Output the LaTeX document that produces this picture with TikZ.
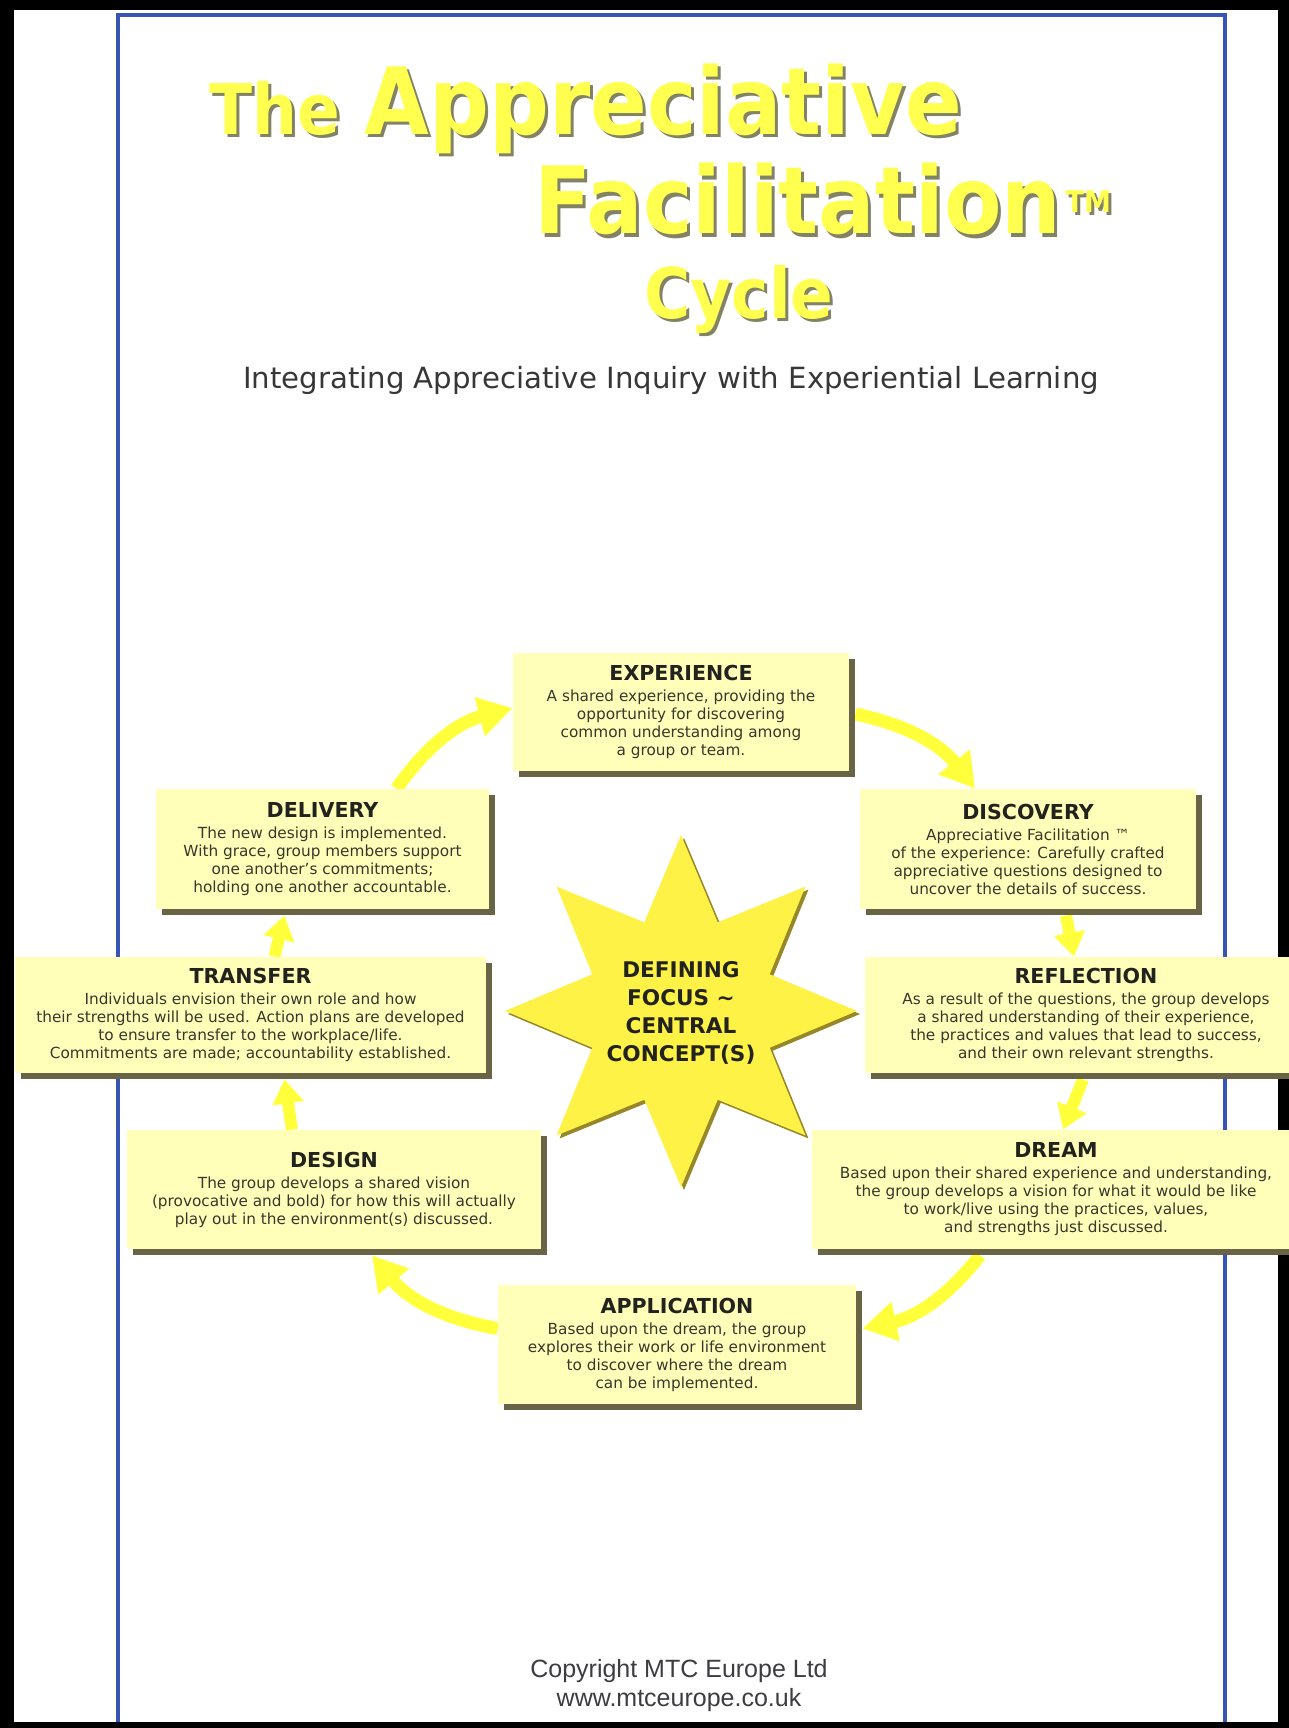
\documentclass[tikz,border=0pt]{standalone}
\usepackage{fontspec}
\usepackage{graphicx}
\setmainfont{DejaVu Sans}
\newfontfamily\footfont{Liberation Sans}
\usetikzlibrary{arrows.meta,shadows}

\definecolor{titleyellow}{RGB}{255,255,80}
\definecolor{titleshade}{RGB}{130,130,100}
\definecolor{subtitlegray}{RGB}{55,55,55}
\definecolor{boxfill}{RGB}{255,255,185}
\definecolor{boxshade}{RGB}{105,100,70}
\definecolor{boxtext}{RGB}{55,55,45}
\definecolor{boxhead}{RGB}{35,35,30}
\definecolor{starfill}{RGB}{255,242,70}
\definecolor{starshade}{RGB}{150,135,40}
\definecolor{flowyellow}{RGB}{255,255,60}
\definecolor{frameblue}{RGB}{55,85,180}
\definecolor{footgray}{RGB}{60,60,65}

\pgfdeclarelayer{paper}
\pgfdeclarelayer{links}
\pgfsetlayers{paper,links,main}

% heading line + body lines of a stage box
\newcommand\stagetext[2]{{\fontsize{10.3pt}{10.5pt}\selectfont\bfseries\color{boxhead}#1}\\[1.5pt]#2}
% yellow headline word with its cast shadow: name, x, y, content
\newcommand\glowtitle[4]{%
  \node[headline, text=titleshade] (#1-shade) at (#2+3,#3-3) {#4};
  \node[headline, text=titleyellow] (#1) at (#2,#3) {#4};}

\begin{document}
\begin{tikzpicture}[x=0.5pt,y=0.5pt,
  stage/.style={rectangle, fill=boxfill, text=boxtext, align=center, inner sep=0pt,
    font=\fontsize{7.65pt}{9pt}\selectfont,
    general shadow={fill=boxshade, shadow xshift=3pt, shadow yshift=-3pt}},
  headline/.style={anchor=base west, inner sep=0pt, font=\bfseries},
  flow/.style={draw=flowyellow, line width=6.5pt, -{Triangle[length=17pt,width=19pt]}},
  hop/.style={draw=flowyellow, line width=6pt, -{Triangle[length=12pt,width=15pt]}},
]
\useasboundingbox (0,0) rectangle (1289,-1728);

% page and frame
\begin{pgfonlayer}{paper}
  \fill[black] (0,0) rectangle (1289,-1728);
  \fill[white] (14,-10) rectangle (1278,-1722);
  \draw[frameblue, line width=1.8pt] (118,-1722) -- (118,-15) -- (1225,-15) -- (1225,-1722);
\end{pgfonlayer}

% title
\glowtitle{the}{209}{-135}{\fontsize{35pt}{38pt}\selectfont\scalebox{0.9}[1]{The}}
\glowtitle{appreciative}{364}{-135}{\fontsize{46.5pt}{50pt}\selectfont\scalebox{0.9}[1]{Appreciative}}
\glowtitle{facilitation}{534}{-234}{\fontsize{46.5pt}{50pt}\selectfont\scalebox{0.9}[1]{Facilitation\hspace{2.5pt}\raisebox{10.5pt}{\fontsize{15pt}{15pt}\selectfont TM}}}
\glowtitle{cycle}{644}{-318}{\fontsize{35pt}{38pt}\selectfont\scalebox{0.9}[1]{Cycle}}
\node[font=\fontsize{14.6pt}{16pt}\selectfont, text=subtitlegray, anchor=base, inner sep=0pt]
  (subtitle) at (671,-388) {Integrating Appreciative Inquiry with Experiential Learning};

% central star
\foreach \cx/\cy/\col in {684/-1014/starshade, 681/-1011/starfill}
  \fill[\col, shift={(\cx,\cy)}] (90:176)
    \foreach \a/\r in {112.5/96,135/176,157.5/96,180/176,202.5/96,225/176,247.5/96,270/176,
                       292.5/96,315/176,337.5/96,360/176,382.5/96,405/176,427.5/96} { -- (\a:\r) } -- cycle;
\node[font=\fontsize{10.8pt}{14pt}\selectfont\bfseries, text=boxhead, align=center, inner sep=0pt]
  (focus) at (681,-1013) {DEFINING\\FOCUS \textasciitilde\\CENTRAL\\CONCEPT(S)};

% stage boxes
\node[stage, minimum width=168pt, minimum height=59pt] (experience) at (681,-712)
  {\stagetext{EXPERIENCE}{A shared experience, providing the\\opportunity for discovering\\common understanding among\\a group or team.}};
\node[stage, minimum width=166.5pt, minimum height=60pt] (delivery) at (322.5,-849)
  {\stagetext{DELIVERY}{The new design is implemented.\\With grace, group members support\\one another's commitments;\\holding one another accountable.}};
\node[stage, minimum width=168pt, minimum height=60pt] (discovery) at (1028,-849)
  {\stagetext{DISCOVERY}{Appreciative Facilitation ™\\of the experience: Carefully crafted\\appreciative questions designed to\\uncover the details of success.}};
\node[stage, minimum width=235.5pt, minimum height=58pt] (transfer) at (250.5,-1015)
  {\stagetext{TRANSFER}{Individuals envision their own role and how\\their strengths will be used. Action plans are developed\\to ensure transfer to the workplace/life.\\Commitments are made; accountability established.}};
\node[stage, minimum width=221pt, minimum height=58pt] (reflection) at (1086,-1015)
  {\stagetext{REFLECTION}{As a result of the questions, the group develops\\a shared understanding of their experience,\\the practices and values that lead to success,\\and their own relevant strengths.}};
\node[stage, minimum width=207pt, minimum height=59.5pt] (design) at (334,-1189.5)
  {\stagetext{DESIGN}{The group develops a shared vision\\(provocative and bold) for how this will actually\\play out in the environment(s) discussed.}};
\node[stage, minimum width=244pt, minimum height=59.5pt] (dream) at (1056,-1189.5)
  {\stagetext{DREAM}{Based upon their shared experience and understanding,\\the group develops a vision for what it would be like\\to work/live using the practices, values,\\and strengths just discussed.}};
\node[stage, minimum width=179pt, minimum height=59.5pt] (application) at (677,-1344.5)
  {\stagetext{APPLICATION}{Based upon the dream, the group\\explores their work or life environment\\to discover where the dream\\can be implemented.}};

% cycle arrows
\begin{pgfonlayer}{links}
  \draw[flow] ([xshift=37pt]delivery.north) to[bend left=20] ([yshift=2pt]experience.west);
  \draw[flow] ([xshift=3pt,yshift=-1pt]experience.east) to[bend left=20] ([xshift=-26.5pt]discovery.north);
  \draw[hop] ([xshift=19pt,yshift=-3pt]discovery.south) -- ([xshift=-6pt]reflection.north);
  \draw[hop] ([xshift=-1.5pt,yshift=-3pt]reflection.south) -- ([xshift=3.5pt]dream.north);
  \draw[flow] ([xshift=-38pt,yshift=-3pt]dream.south) to[bend left=20] ([xshift=3pt,yshift=8pt]application.east);
  \draw[flow] ([yshift=8pt]application.west) to[bend left=20] ([xshift=19pt,yshift=-3pt]design.south);
  \draw[hop] ([xshift=-21pt]design.north) -- ([xshift=17pt,yshift=-3pt]transfer.south);
  \draw[hop] ([xshift=12pt]transfer.north) -- ([xshift=-19pt,yshift=-3pt]delivery.south);
\end{pgfonlayer}

% footer
\node[font=\footfont\fontsize{12.5pt}{14pt}\selectfont, text=footgray, anchor=base, inner sep=0pt]
  (copyright) at (679,-1677) {Copyright MTC Europe Ltd};
\node[font=\footfont\fontsize{12.5pt}{14pt}\selectfont, text=footgray, anchor=base, inner sep=0pt]
  (website) at (679,-1706) {www.mtceurope.co.uk};
\end{tikzpicture}
\end{document}
